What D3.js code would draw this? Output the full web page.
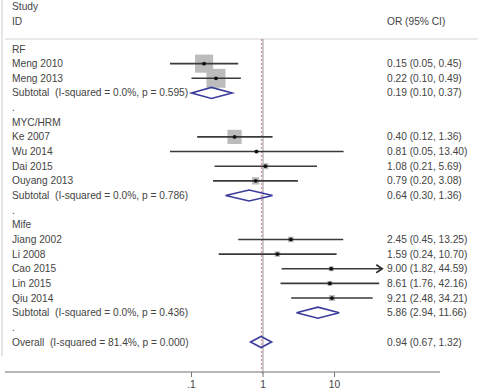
<!DOCTYPE html>
<html>
<head>
<meta charset="utf-8">
<script src="https://cdn.jsdelivr.net/npm/d3@7"></script>
<style>
  body { margin: 0; background: #fff; }
  text { font-family: "Liberation Sans", Arial, sans-serif; font-size: 10.2px; fill: #444; white-space: pre; }
</style>
</head>
<body>
<div id="vis"></div>
<script>
// Chart size
const width = 482;
const height = 390;

// Study level data
const groups = ['RF', 'MYC/HRM', 'Mife'];
const studyNames = ['Meng 2010', 'Meng 2013', 'Ke 2007', 'Wu 2014', 'Dai 2015', 'Ouyang 2013',
    'Jiang 2002', 'Li 2008', 'Cao 2015', 'Lin 2015', 'Qiu 2014'];
const studyGroup = ['RF', 'RF', 'MYC/HRM', 'MYC/HRM', 'MYC/HRM', 'MYC/HRM',
    'Mife', 'Mife', 'Mife', 'Mife', 'Mife'];
const studyOR = [0.15, 0.22, 0.40, 0.81, 1.08, 0.79, 2.45, 1.59, 9.00, 8.61, 9.21];
const studyLo = [0.05, 0.10, 0.12, 0.05, 0.21, 0.20, 0.45, 0.24, 1.82, 1.76, 2.48];
const studyHi = [0.45, 0.49, 1.36, 13.40, 5.69, 3.08, 13.25, 10.70, 44.59, 42.16, 34.21];
const studyWeight = [14.5, 16.0, 9.0, 0.6, 1.6, 2.4, 1.4, 1.4, 1.1, 1.1, 1.6];

// Pooled estimates per group and overall
const subOR = [0.19, 0.64, 5.86];
const subLo = [0.10, 0.30, 2.94];
const subHi = [0.37, 1.36, 11.66];
const subHet = ['I-squared = 0.0%, p = 0.595', 'I-squared = 0.0%, p = 0.786', 'I-squared = 0.0%, p = 0.436'];
const overall = { or: 0.94, lo: 0.67, hi: 1.32, het: 'I-squared = 81.4%, p = 0.000' };

// Axis ticks
const tickValues = [0.1, 1, 10];
const tickLabels = ['.1', '1', '10'];
const axisMax = 44.4;

const fmt = d3.format('.2f');
const ciText = (o, l, h) => `${fmt(o)} (${fmt(l)}, ${fmt(h)})`;

// Build the list of rows in display order
let rows = [];
groups.forEach((g, gi) => {
    rows.push({ type: 'head', label: g });
    studyNames.forEach((n, i) => {
        if (studyGroup[i] === g) {
            rows.push({ type: 'study', label: n, or: studyOR[i], lo: studyLo[i], hi: studyHi[i], w: studyWeight[i] });
        }
    });
    rows.push({ type: 'pool', label: `Subtotal  (${subHet[gi]})`, or: subOR[gi], lo: subLo[gi], hi: subHi[gi] });
    rows.push({ type: 'gap', label: '.' });
});
rows.push({ type: 'pool', label: `Overall  (${overall.het})`, or: overall.or, lo: overall.lo, hi: overall.hi });

let svg = d3.select('#vis')
    .append('svg')
    .attr('width', width)
    .attr('height', height);

svg.append('rect').attr('width', width).attr('height', height).attr('fill', '#fff');

// Scales
let xScale = d3.scaleLog()
    .domain([0.1, 10])
    .range([191.5, 334.5]);

let yScale = d3.scaleLinear()
    .domain([0, rows.length - 1])
    .range([49, 342]);

let sizeScale = d3.scaleSqrt()
    .domain([0, d3.max(studyWeight)])
    .range([0, 19]);

// Frame lines
svg.append('line')
    .attr('x1', 2).attr('x2', 2).attr('y1', 0).attr('y2', 356)
    .attr('stroke', '#ddd').attr('stroke-width', 1.5);

svg.append('line')
    .attr('x1', 5).attr('x2', 478).attr('y1', 39).attr('y2', 39)
    .attr('stroke', '#e2e2e2').attr('stroke-width', 1.5);

// Headers
svg.append('text').attr('x', 12).attr('y', 10).text('Study');
svg.append('text').attr('x', 12).attr('y', 24.5).text('ID');
svg.append('text').attr('x', 387).attr('y', 24.5).text('OR (95% CI)');

// Null line and overall line
svg.append('line')
    .attr('x1', xScale(1)).attr('x2', xScale(1))
    .attr('y1', 39).attr('y2', 374)
    .attr('stroke', '#9a9a9a').attr('stroke-width', 1);

svg.append('line')
    .attr('x1', xScale(overall.or) + 0.5).attr('x2', xScale(overall.or) + 0.5)
    .attr('y1', 39).attr('y2', 374)
    .attr('stroke', '#d49aa6').attr('stroke-width', 1.5)
    .attr('stroke-dasharray', '2,2');

// Labels on the left and estimates on the right
svg.selectAll('.label')
    .data(rows)
    .join('text')
    .attr('class', 'label')
    .attr('x', 12)
    .attr('y', (d, i) => yScale(i) + 3.5)
    .text(d => d.label);

svg.selectAll('.est')
    .data(rows.filter(d => d.type === 'study' || d.type === 'pool'))
    .join('text')
    .attr('class', 'est')
    .attr('x', 387)
    .attr('y', d => yScale(rows.indexOf(d)) + 3.5)
    .text(d => ciText(d.or, d.lo, d.hi));

// Study weight boxes
let studies = rows.filter(d => d.type === 'study');

svg.selectAll('.box')
    .data(studies)
    .join('rect')
    .attr('class', 'box')
    .attr('x', d => xScale(d.or) - sizeScale(d.w) / 2)
    .attr('y', d => yScale(rows.indexOf(d)) - sizeScale(d.w) / 2)
    .attr('width', d => sizeScale(d.w))
    .attr('height', d => sizeScale(d.w))
    .attr('fill', '#bcbcbc');

// Confidence intervals
svg.selectAll('.ci')
    .data(studies)
    .join('line')
    .attr('class', 'ci')
    .attr('x1', d => xScale(d.lo))
    .attr('x2', d => xScale(Math.min(d.hi, axisMax)))
    .attr('y1', d => yScale(rows.indexOf(d)))
    .attr('y2', d => yScale(rows.indexOf(d)))
    .attr('stroke', '#3a3a3a')
    .attr('stroke-width', 1.6);

// Arrow where the interval runs past the axis
svg.selectAll('.arrow')
    .data(studies.filter(d => d.hi > axisMax))
    .join('path')
    .attr('class', 'arrow')
    .attr('d', d => {
        let x = xScale(axisMax) + 1.5, y = yScale(rows.indexOf(d));
        return `M${x - 6},${y - 4} L${x},${y} L${x - 6},${y + 4}`;
    })
    .attr('fill', 'none')
    .attr('stroke', '#2a2a2a')
    .attr('stroke-width', 1.6);

// Point estimates
svg.selectAll('.dot')
    .data(studies)
    .join('circle')
    .attr('class', 'dot')
    .attr('cx', d => xScale(d.or))
    .attr('cy', d => yScale(rows.indexOf(d)))
    .attr('r', 1.9)
    .attr('fill', '#111');

// Pooled diamonds
svg.selectAll('.diamond')
    .data(rows.filter(d => d.type === 'pool'))
    .join('path')
    .attr('class', 'diamond')
    .attr('d', d => {
        let y = yScale(rows.indexOf(d));
        return `M${xScale(d.lo)},${y} L${xScale(d.or)},${y - 5.5} L${xScale(d.hi)},${y} L${xScale(d.or)},${y + 5.5} Z`;
    })
    .attr('fill', 'none')
    .attr('stroke', '#3c3c9c')
    .attr('stroke-width', 1.6);

// X axis
let axis = svg.append('g').attr('transform', 'translate(0,372)');

axis.append('line')
    .attr('x1', 5).attr('x2', 440)
    .attr('stroke', '#9f9f9f').attr('stroke-width', 1.5);

axis.selectAll('.tick')
    .data(tickValues)
    .join('line')
    .attr('class', 'tick')
    .attr('x1', d => xScale(d)).attr('x2', d => xScale(d))
    .attr('y1', 0).attr('y2', 5)
    .attr('stroke', '#777');

axis.selectAll('.tlabel')
    .data(tickValues)
    .join('text')
    .attr('class', 'tlabel')
    .attr('x', d => xScale(d))
    .attr('y', 16)
    .attr('text-anchor', 'middle')
    .text((d, i) => tickLabels[i]);
</script>
</body>
</html>
